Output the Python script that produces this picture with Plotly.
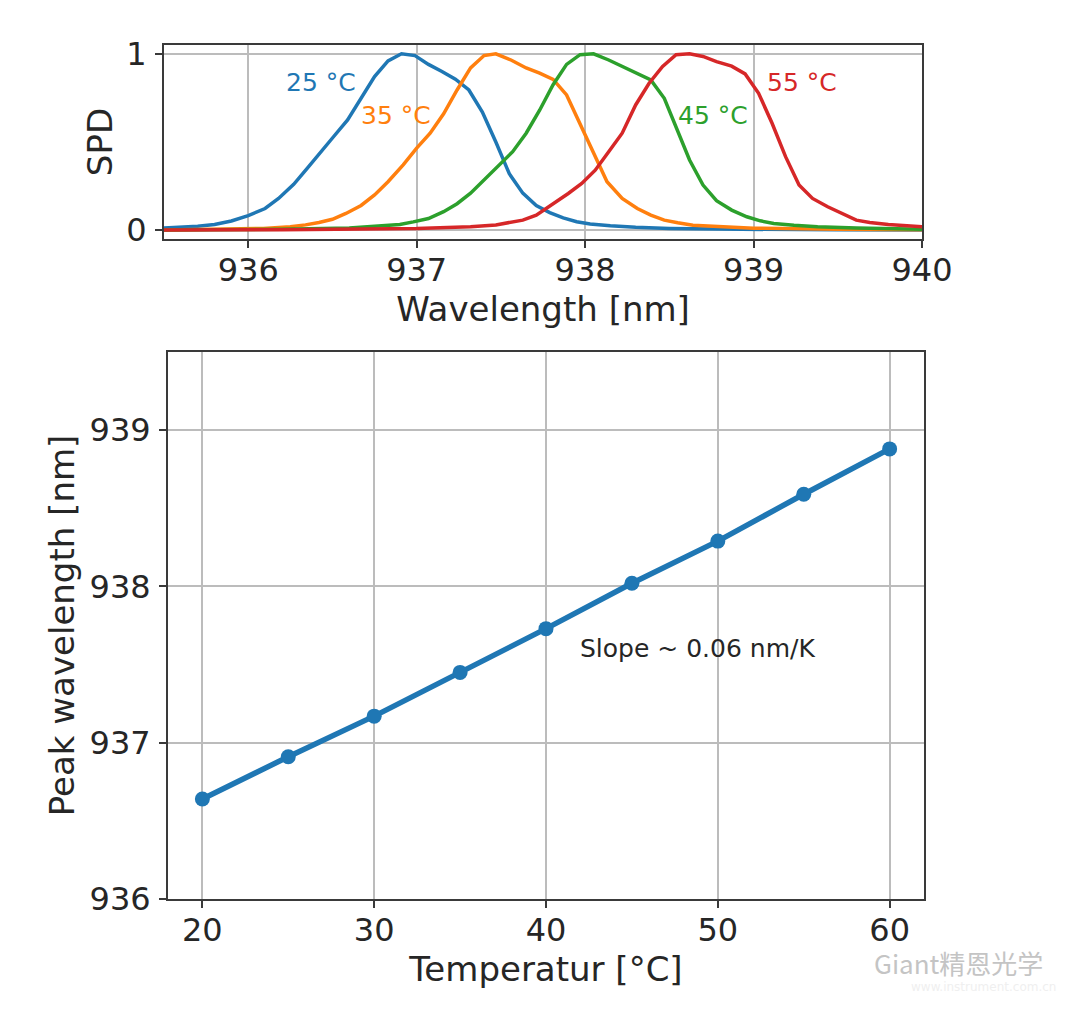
import plotly.graph_objects as go

W, H = 1080, 1010

x25 = [935.5,935.6,935.7,935.8,935.9,936.0,936.10,936.18,936.27,936.35,936.43,936.51,936.59,936.67,936.75,936.83,936.91,936.99,937.07,937.15,937.23,937.31,937.39,937.47,937.55,937.63,937.71,937.79,937.87,937.95,938.03,938.15,938.3,938.5,938.8,939.5,940]
y25 = [.012,.016,.022,.032,.052,.083,.123,.18,.26,.35,.445,.534,.625,.748,.871,.96,1,.99,.94,.9,.856,.795,.67,.50,.32,.21,.14,.10,.07,.048,.035,.025,.016,.01,.006,.002,.001]

x35 = [935.5,936.09,936.25,936.34,936.42,936.5,936.58,936.67,936.75,936.83,936.92,937.0,937.08,937.16,937.24,937.32,937.40,937.47,937.56,937.65,937.73,937.81,937.89,937.97,938.05,938.13,938.22,938.31,938.39,938.47,938.55,938.64,938.82,939,939.5,940]
y35 = [.001,.01,.02,.03,.044,.062,.095,.14,.2,.275,.37,.465,.55,.66,.795,.92,.99,1,.965,.92,.89,.855,.767,.606,.436,.275,.18,.123,.085,.057,.042,.028,.019,.011,.005,.002]

x45 = [935.5,936.2,936.6,936.8,936.9,936.98,937.07,937.16,937.24,937.32,937.4,937.48,937.57,937.65,937.73,937.81,937.89,937.97,938.05,938.14,938.22,938.31,938.39,938.47,938.55,938.62,938.7,938.78,938.87,938.96,939.04,939.12,939.24,939.38,939.61,940]
y45 = [.001,.005,.013,.023,.032,.047,.066,.105,.15,.21,.285,.36,.445,.55,.68,.825,.94,.995,1,.965,.928,.89,.852,.748,.568,.398,.256,.167,.114,.076,.053,.038,.028,.02,.013,.005]

x55 = [935.5,936.2,937,937.32,937.47,937.55,937.63,937.71,937.82,937.9,937.98,938.06,938.14,938.22,938.3,938.38,938.46,938.54,938.62,938.7,938.78,938.87,938.95,939.03,939.11,939.19,939.27,939.35,939.44,939.53,939.61,939.69,939.8,940]
y55 = [.001,.002,.009,.019,.03,.042,.057,.085,.155,.208,.265,.34,.445,.55,.71,.833,.928,.995,1,.985,.956,.93,.886,.776,.606,.417,.256,.18,.133,.095,.057,.044,.032,.019]

temps = [20,25,30,35,40,45,50,55,60]
peaks = [936.64,936.91,937.17,937.45,937.73,938.02,938.29,938.59,938.88]

curve_names = ["25 °C","35 °C","45 °C","55 °C"]
curve_colors = ["#1f77b4","#ff7f0e","#2ca02c","#d62728"]
label_x = [936.43,936.88,938.76,939.29]
label_y = [.84,.648,.648,.84]

top_box = (164,922,45,239)
bot_box = (168,924,352,899)
ink = "#262626"
grid = "#bcbcbc"
font = "DejaVu Sans"

def dom_x(b): return [b[0]/W, b[1]/W]
def dom_y(b): return [1-b[3]/H, 1-b[2]/H]

fig = go.Figure()
for xs, ys, n, c in zip([x25,x35,x45,x55],[y25,y35,y45,y55],curve_names,curve_colors):
    fig.add_trace(go.Scatter(x=xs,y=ys,mode="lines",name=n,line=dict(color=c,width=3.5),xaxis="x",yaxis="y",showlegend=False))
fig.add_trace(go.Scatter(x=temps,y=peaks,mode="lines+markers",line=dict(color="#1f77b4",width=5.5),
                         marker=dict(size=15,color="#1f77b4"),xaxis="x2",yaxis="y2",showlegend=False))

ax = dict(automargin=False,showline=True,linecolor="#3a3a3a",linewidth=2,mirror=True,ticks="outside",ticklen=7,tickwidth=2,tickcolor="#3a3a3a",
          showgrid=True,gridcolor=grid,gridwidth=2,zeroline=False,tickfont=dict(size=32,color=ink,family=font),ticklabelstandoff=2)
tf = dict(size=34,color=ink,family=font)

fig.update_layout(
    width=W,height=H,margin=dict(l=0,r=0,t=0,b=0),paper_bgcolor="white",plot_bgcolor="white",
    xaxis=dict(ax,domain=dom_x(top_box),range=[935.5,940],tickvals=[936,937,938,939,940],anchor="y",ticklabelstandoff=-5,
               title=dict(text="Wavelength [nm]",font=tf,standoff=6)),
    yaxis=dict(ax,domain=dom_y(top_box),range=[-0.05,1.05],tickvals=[0,1],anchor="x",
               title=dict(text="SPD",font=tf,standoff=3)),
    xaxis2=dict(ax,domain=dom_x(bot_box),range=[18,62],tickvals=[20,30,40,50,60],anchor="y2",ticklabelstandoff=-5,
                title=dict(text="Temperatur [°C]",font=tf,standoff=4)),
    yaxis2=dict(ax,domain=dom_y(bot_box),range=[936,939.5],tickvals=[936,937,938,939],anchor="x2",
                title=dict(text="Peak wavelength [nm]",font=tf,standoff=5)),
)
for n,c,lx,ly in zip(curve_names,curve_colors,label_x,label_y):
    fig.add_annotation(x=lx,y=ly,xref="x",yref="y",text=n,showarrow=False,font=dict(size=25,color=c,family=font))
fig.add_annotation(x=48.8,y=937.606,xref="x2",yref="y2",text="Slope ~ 0.06 nm/K",showarrow=False,font=dict(size=25,color=ink,family=font))
fig.add_annotation(x=958/W,y=1-962/H,xref="paper",yref="paper",xanchor="center",yanchor="middle",text="Giant精恩光学",showarrow=False,
                   font=dict(size=26,color="#c4c4c4",family="Noto Sans CJK SC"))
fig.add_annotation(x=983/W,y=1-987/H,xref="paper",yref="paper",xanchor="center",yanchor="middle",text="www.instrument.com.cn",showarrow=False,
                   font=dict(size=12,color="#efefef",family=font))

fig.write_html("out.html",config=dict(displayModeBar=False),post_script="document.body.style.margin='0';")
